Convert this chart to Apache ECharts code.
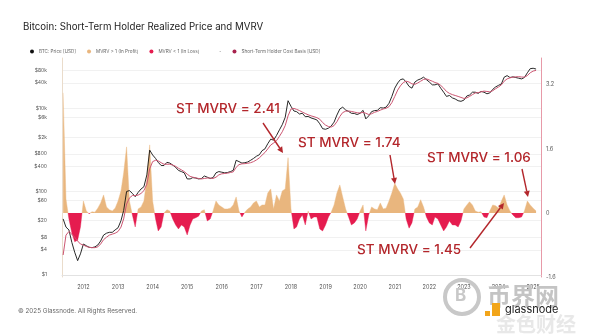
<!DOCTYPE html>
<html><head><meta charset="utf-8">
<script src="https://cdn.jsdelivr.net/npm/echarts@6/dist/echarts.min.js"></script>
<style>html,body{margin:0;padding:0;background:#fff}#c{width:600px;height:336px}</style>
</head><body><div id="c"></div>
<script>
// Monthly points, first of month, from Jun 2011 to Feb 2025
const startYear = 2011, startMonth = 6;

const price = [
  22, 14, 12, 6, 3.5, 2.2, 3.2,
  5.5, 5, 4.6, 4.5, 4.7, 5.2, 6.5, 9, 10, 10.5, 10.5, 12,
  13.5, 20, 35, 100, 105, 90, 75, 95, 115, 130, 250, 980,
  750, 620, 500, 420, 420, 500, 480, 430, 380, 320, 300, 280,
  200, 200, 215, 210, 200, 205, 235, 220, 205, 215, 280, 300,
  290, 280, 285, 300, 320, 560, 520, 480, 490, 510, 560, 620,
  700, 760, 950, 1050, 1400, 1800, 1700, 2200, 3000, 4000, 6000, 15000,
  11000, 8500, 8200, 7200, 7500, 6200, 6300, 5800, 5500, 5200, 4200, 3200,
  3100, 3300, 3700, 4600, 6800, 9500, 10500, 9000, 8300, 7500, 7400, 7000,
  7500, 8800, 5500, 6500, 8200, 8700, 8800, 10200, 10000, 10500, 13000, 19000,
  30000, 40000, 48000, 50000, 42000, 33000, 30000, 42000, 47000, 50000, 55000, 48000,
  42000, 36000, 36000, 38000, 30000, 24000, 19000, 20000, 17500, 16500, 15000, 14500,
  15500, 19500, 20500, 24000, 24000, 22500, 25000, 24000, 22000, 23000, 28000, 32000,
  35000, 38000, 55000, 60000, 54000, 56000, 54000, 52000, 50000, 54000, 70000, 88000,
  90000, 86000
];

const costBasis = [
  3, 9, 11, 9.5, 8, 6.5, 5.5,
  5.2, 4.8, 4.6, 4.5, 4.5, 4.7, 5.5, 7, 8, 9, 9.5, 10,
  11, 14, 22, 50, 70, 80, 80, 82, 90, 105, 150, 350,
  520, 560, 540, 490, 450, 450, 450, 430, 400, 360, 330, 300,
  260, 230, 220, 212, 205, 200, 205, 210, 210, 205, 220, 250,
  265, 270, 275, 285, 295, 380, 440, 460, 465, 475, 490, 520,
  570, 640, 740, 860, 1050, 1300, 1450, 1650, 2100, 2700, 3800, 6500,
  9500, 9800, 9300, 8700, 8000, 7400, 6900, 6500, 6200, 5900, 5400, 4500,
  3900, 3600, 3500, 3800, 4700, 6300, 7800, 8400, 8500, 8300, 8000, 7700,
  7600, 7900, 7500, 7000, 7300, 7900, 8300, 8900, 9500, 9900, 10800, 13500,
  19000, 27000, 34000, 41000, 44000, 42000, 38000, 37000, 40000, 44000, 48500, 50000,
  47000, 44000, 41000, 39000, 35000, 30000, 25000, 22500, 21000, 20000, 19000, 18000,
  17000, 17500, 19000, 21000, 23000, 23500, 24500, 25500, 25000, 24500, 26000, 29000,
  32000, 36000, 44000, 50000, 53000, 55000, 56000, 56500, 55500, 55000, 60000, 70000,
  77000, 80000
];

// Short-term holder MVRV minus 1
const stMvrvMinus1 = [
  3.0, 0.35, -0.15, -0.5, -0.72, -0.68, -0.35,
  0.3, 0.05, -0.02, 0.03, 0.02, 0.12, 0.25, 0.45, 0.15, 0.08, 0.05, 0.12,
  0.3, 0.55, 1.0, 1.65, 0.3, -0.05, -0.35, 0.1, 0.15, 0.3, 0.85, 1.7,
  0.3, -0.15, -0.45, -0.35, 0.0, 0.08, 0.05, -0.15, -0.3, -0.4, -0.3, -0.35,
  -0.55, -0.3, -0.15, -0.12, -0.08, 0.05, 0.08, -0.2, -0.15, 0.05, 0.3, 0.2,
  0.15, 0.1, 0.1, 0.12, 0.2, 0.4, 0.05, -0.1, 0.02, 0.1, 0.15, 0.25,
  0.3, 0.15, 0.2, 0.2, 0.5, 0.6, 0.1, 0.45, 0.3, 0.55, 0.6, 1.38,
  0.1, -0.4, -0.35, -0.15, -0.05, -0.3, 0.05, -0.15, -0.1, -0.1, -0.4, -0.45,
  -0.3, -0.1, 0.02, 0.2, 0.5, 0.7, 0.4, 0.1, -0.1, -0.3, -0.25, -0.15,
  0.05, 0.2, -0.45, -0.05, 0.15, 0.1, 0.08, 0.25, 0.1, 0.12, 0.3, 0.5,
  0.74, 0.6, 0.5, 0.35, -0.15, -0.38, -0.25, 0.1, 0.15, 0.33, 0.15, -0.1,
  -0.25, -0.3, -0.1, -0.15, -0.3, -0.45, -0.35, -0.2, -0.3, -0.3, -0.35, -0.2,
  0.1, 0.2, 0.28, 0.2, 0.05, 0.02, 0.03, -0.1, -0.12, 0.05, 0.2, 0.18,
  0.12, 0.3, 0.45, 0.2, 0.05, -0.05, -0.12, -0.12, -0.1, 0.05, 0.3, 0.2,
  0.12, 0.05
];

const priceTicks = [1, 4, 8, 20, 60, 100, 400, 800, 2000, 6000, 10000, 40000, 80000];
const mvrvTicks = [-1.6, 0, 1.6, 3.2];
const yearTicks = [2012, 2013, 2014, 2015, 2016, 2017, 2018, 2019, 2020, 2021, 2022, 2023, 2024, 2025];

const legendNames = ['BTC: Price [USD]', 'MVRV > 1 (In Profit)', 'MVRV < 1 (In Loss)', '-', 'Short-Term Holder Cost Basis [USD]'];

const dates = price.map((_, i) => {
  const m = startMonth - 1 + i;
  return Date.UTC(startYear + Math.floor(m / 12), m % 12, 1);
});

const FONT = 'Inter, Roboto, sans-serif';
const ORANGE = '#E9B67E', RED = '#E51C4F', BLACK = '#111111', PINK = '#CC5672', ANN = '#B3262B';

function fmtPrice(v) {
  const p = Math.round(Math.pow(10, v));
  return p >= 1000 ? '$' + Math.round(p / 1000) + 'k' : '$' + p;
}

function arrow(x1, y1, x2, y2) {
  const a = Math.atan2(y2 - y1, x2 - x1), L = 6, W = 3;
  const bx = x2 - L * Math.cos(a), by = y2 - L * Math.sin(a);
  return [
    { type: 'line', shape: { x1: x1, y1: y1, x2: bx, y2: by }, style: { stroke: ANN, lineWidth: 1.4 }, z: 100 },
    { type: 'polygon', shape: { points: [[x2, y2], [bx + W * Math.sin(a), by - W * Math.cos(a)], [bx - W * Math.sin(a), by + W * Math.cos(a)]] }, style: { fill: ANN }, z: 100 }
  ];
}

function ann(text, x, y) {
  return { type: 'text', left: x, top: y, z: 100,
    style: { text: text, fill: ANN, font: '500 13.5px ' + FONT } };
}

const chart = echarts.init(document.getElementById('c'), null, { renderer: 'canvas' });

chart.setOption({
  backgroundColor: '#ffffff',
  animation: false,
  title: {
    text: 'Bitcoin: Short-Term Holder Realized Price and MVRV',
    left: 18, top: 17,
    textStyle: { fontSize: 9.7, fontWeight: 'normal', color: '#222', fontFamily: FONT }
  },
  legend: {
    left: 30, top: 49, padding: 0,
    itemWidth: 4, itemHeight: 4, itemGap: 11, icon: 'circle',
    selectedMode: false,
    textStyle: { fontSize: 4.6, color: '#666', fontFamily: FONT },
    data: legendNames
  },
  grid: { left: 62, right: 59, top: 58, bottom: 59 },
  visualMap: {
    show: false, type: 'piecewise', seriesIndex: 0, dimension: 1,
    pieces: [{ gte: -10, lt: 0, color: RED }, { gte: 0, lte: 10, color: ORANGE }],
    outOfRange: { color: ORANGE }
  },
  xAxis: {
    type: 'value',
    min: Date.UTC(2011, 4, 20), max: Date.UTC(2025, 2, 25),
    axisLine: { show: true, lineStyle: { color: '#e2e2e2', width: 1 } },
    axisTick: { show: false },
    splitLine: { show: false },
    axisLabel: {
      customValues: yearTicks.map(y => Date.UTC(y, 0, 1)),
      formatter: v => String(new Date(v).getUTCFullYear()),
      fontSize: 5.5, color: '#555', fontFamily: FONT, margin: 7
    }
  },
  yAxis: [
    {
      type: 'value', min: -0.05, max: 5.2, position: 'left',
      axisLine: { show: true, lineStyle: { color: '#eadccb', width: 1 } },
      axisTick: { show: false, customValues: priceTicks.map(p => Math.log10(p)) },
      axisLabel: {
        customValues: priceTicks.map(p => Math.log10(p)),
        formatter: fmtPrice, fontSize: 5, color: '#555', fontFamily: FONT, margin: 15
      },
      splitLine: { show: true, lineStyle: { color: '#f1f1f1', width: 1 } }
    },
    {
      type: 'value', min: -1.6, max: 3.87, position: 'right',
      axisLine: { show: true, lineStyle: { color: '#e79aa8', width: 1 } },
      axisTick: { show: false },
      axisLabel: {
        customValues: mvrvTicks,
        formatter: v => (Math.abs(v) < 1e-9 ? '0' : v.toFixed(1)),
        fontSize: 5.5, color: '#555', fontFamily: FONT, margin: 5
      },
      splitLine: { show: false }
    }
  ],
  series: [
    {
      name: 'STH MVRV - 1', type: 'line', yAxisIndex: 1, z: 1,
      data: dates.map((d, i) => [d, stMvrvMinus1[i]]),
      showSymbol: false, symbol: 'none',
      lineStyle: { width: 0.4 },
      areaStyle: { opacity: 1 }
    },
    {
      name: legendNames[0], type: 'line', yAxisIndex: 0, z: 3,
      data: dates.map((d, i) => [d, Math.log10(price[i])]),
      showSymbol: false, symbol: 'none',
      itemStyle: { color: BLACK },
      lineStyle: { color: BLACK, width: 0.9 }
    },
    {
      name: legendNames[4], type: 'line', yAxisIndex: 0, z: 4,
      data: dates.map((d, i) => [d, Math.log10(costBasis[i])]),
      showSymbol: false, symbol: 'none',
      itemStyle: { color: '#A8234E' },
      lineStyle: { color: PINK, width: 1 }
    },
    { name: legendNames[1], type: 'line', yAxisIndex: 1, data: [], itemStyle: { color: ORANGE } },
    { name: legendNames[2], type: 'line', yAxisIndex: 1, data: [], itemStyle: { color: RED } },
    { name: legendNames[3], type: 'line', yAxisIndex: 1, data: [], itemStyle: { color: 'rgba(0,0,0,0)' } }
  ],
  graphic: [
    { type: 'text', left: 18, top: 308, style: { text: '\u00a9 2025 Glassnode. All Rights Reserved.', fill: '#666', font: '6.3px ' + FONT } },
    { type: 'circle', shape: { cx: 462, cy: 297, r: 17 }, style: { fill: 'none', stroke: '#c8c8c8', lineWidth: 4 }, z: 50 },
    { type: 'text', left: 455, top: 287, style: { text: 'B', fill: '#c8c8c8', font: 'bold 17px ' + FONT }, z: 50 },
    { type: 'text', left: 487, top: 284, style: { text: '币界网', fill: '#c4c4c4', font: 'bold 24px "Noto Sans CJK SC"' }, z: 50 },
    { type: 'rect', shape: { x: 485, y: 311, width: 5, height: 5 }, style: { fill: '#F2A51A' }, z: 51 },
    { type: 'rect', shape: { x: 492, y: 303, width: 8, height: 13 }, style: { fill: '#F2A51A' }, z: 51 },
    { type: 'text', left: 505, top: 304, style: { text: 'glassnode', fill: '#222', font: '11px ' + FONT }, z: 52 },
    { type: 'text', left: 496, top: 314, style: { text: '金色财经', fill: 'rgba(205,205,205,0.45)', font: 'bold 20px "Noto Sans CJK SC"' }, z: 49 },
    ann('ST MVRV = 2.41', 176, 102),
    ann('ST MVRV = 1.74', 298, 136),
    ann('ST MVRV = 1.06', 427, 151),
    ann('ST MVRV = 1.45', 357, 243),
    ...arrow(263, 123, 283, 153),
    ...arrow(390, 155, 395, 184),
    ...arrow(522, 169, 528, 197),
    ...arrow(470, 248, 504, 203)
  ]
});
</script>
</body></html>
